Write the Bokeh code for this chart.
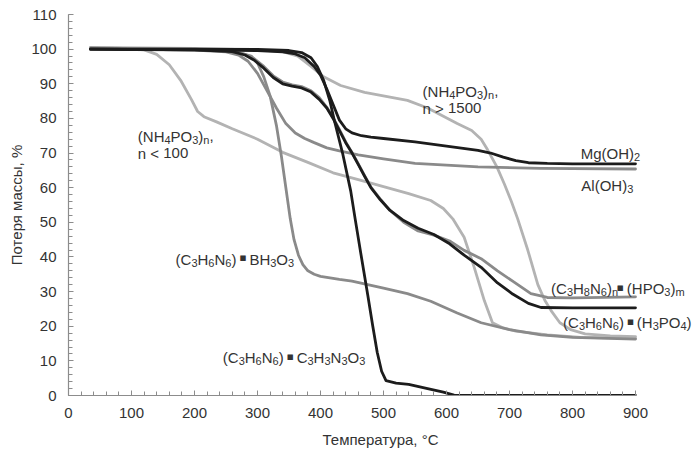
from bokeh.plotting import figure
from bokeh.models import Range1d, SingleIntervalTicker, Label
from bokeh.embed import file_html
from bokeh.resources import INLINE

# --- TGA curves: temperature (°C) and residual mass (%) ---
mg_t = [35, 100, 200, 300, 340, 360, 375, 390, 400, 410, 420, 430, 440, 450, 465, 480, 500, 550, 600, 650, 670, 690, 710, 730, 760, 800, 900]
mg_w = [100, 99.9, 99.8, 99.6, 99.2, 98.6, 97.5, 95, 92.5, 88.5, 84, 79.5, 77, 75.8, 75, 74.6, 74.2, 73.2, 72, 70.8, 70, 68.8, 67.8, 67.2, 67, 66.9, 66.9]

al_t = [35, 100, 200, 250, 270, 285, 300, 315, 330, 345, 360, 375, 390, 410, 430, 460, 500, 550, 600, 650, 750, 900]
al_w = [100.3, 100, 99.7, 99.2, 98.3, 96.5, 93, 88, 83, 78.5, 75.8, 74.2, 73, 71.5, 70.6, 69.5, 68.3, 67, 66.5, 66, 65.6, 65.4]

nh_low_t = [35, 80, 120, 140, 160, 178, 195, 205, 215, 235, 260, 300, 340, 380, 420, 460, 500, 540, 575, 595, 610, 628, 644, 660, 673, 690, 710, 760, 813, 900]
nh_low_w = [100.5, 100.3, 99.8, 98.5, 95.5, 91, 85.5, 82, 80.5, 79, 77, 74, 70.2, 67.3, 64.3, 62.3, 60.3, 58.3, 56.3, 54, 51, 45.7, 37, 27.4, 21, 19.5, 18.6, 17.5, 16.8, 16.5]

nh_high_t = [35, 200, 300, 340, 364, 385, 405, 432, 470, 538, 570, 617, 640, 655, 665, 680, 692, 703, 713, 729, 745, 756, 766, 780, 797, 820, 860, 900]
nh_high_w = [100.5, 100.2, 99.8, 99.3, 98, 95, 92, 89.5, 87.5, 85.2, 83, 78.5, 76.5, 74, 71, 66, 61, 56, 51, 42, 32, 27.5, 24.5, 21, 19, 17.8, 17.2, 17]

bh_t = [35, 200, 250, 270, 290, 300, 310, 320, 330, 338, 345, 352, 358, 365, 372, 380, 390, 400, 430, 450, 500, 538, 575, 617, 655, 700, 750, 800, 900]
bh_w = [100.3, 100, 99.5, 99, 98, 96, 92, 86.5, 78, 69, 60, 51, 45, 40.5, 37.8, 36, 35, 34.4, 33.5, 33, 31, 29.4, 27.2, 23.8, 21, 19, 17.5, 16.8, 16.3]

cy_t = [35, 200, 300, 350, 370, 385, 395, 405, 415, 422, 435, 448, 455, 464, 475, 483, 490, 497, 504, 520, 540, 570, 595, 612, 650, 900]
cy_w = [100, 100, 99.9, 99.6, 99, 97.5, 95, 91, 85, 79.4, 70, 59, 51, 41, 29, 20, 12.5, 7, 4.3, 3.6, 3.2, 2, 1, 0.1, 0, 0]

hp_t = [35, 200, 260, 280, 295, 310, 325, 340, 355, 370, 385, 398, 410, 420, 430, 440, 450, 459, 470, 480, 495, 510, 532, 555, 580, 605, 628, 655, 681, 705, 734, 760, 800, 900]
hp_w = [100.2, 99.9, 99.4, 98.5, 97.2, 95, 92.3, 90.5, 89.7, 89.2, 88, 86, 83.2, 80.2, 76.8, 73.2, 70.2, 67.2, 63.5, 60.2, 56.7, 53.5, 50, 47.5, 46.3, 44.6, 41.9, 39.5, 36, 33, 29.4, 28.3, 28.2, 28.5]

h3_t = [35, 200, 260, 280, 295, 310, 325, 340, 355, 370, 385, 398, 410, 420, 430, 440, 450, 459, 470, 480, 495, 510, 532, 555, 580, 605, 628, 655, 681, 705, 730, 750, 800, 900]
h3_w = [100, 99.8, 99.3, 98.3, 96.8, 94.5, 91.8, 90, 89.3, 88.8, 87.6, 85.5, 83, 80, 76.5, 73, 70, 67, 63.3, 60, 56.5, 53.5, 50.5, 48.3, 46.5, 43.8, 40.5, 37, 32.5, 29.3, 26.6, 25.4, 25.3, 25.3]

BLACK = "#1c1c1c"
MID = "#8a8a8a"
LIGHT = "#b3b3b3"

series = [
    (nh_low_t, nh_low_w, LIGHT),
    (nh_high_t, nh_high_w, LIGHT),
    (bh_t, bh_w, MID),
    (al_t, al_w, MID),
    (hp_t, hp_w, MID),
    (h3_t, h3_w, BLACK),
    (mg_t, mg_w, BLACK),
    (cy_t, cy_w, BLACK),
]

# --- curve labels ("_x" marks a subscript character) ---
label_texts = [
    "(NH_4PO_3)_n,",
    "n < 100",
    "(NH_4PO_3)_n,",
    "n > 1500",
    "Mg(OH)_2",
    "Al(OH)_3",
    "(C_3H_6N_6) \u25aa BH_3O_3",
    "(C_3H_6N_6) \u25aa C_3H_3N_3O_3",
    "(C_3H_8N_6)_n\u25aa (HPO_3)_m",
    "(C_3H_6N_6) \u25aa (H_3PO_4)",
]
# left edge (°C) and text baseline (%)
label_pos = [
    (110, 74.9), (110, 70.0),
    (562, 87.9), (562, 83.0),
    (813, 69.8), (814, 60.5),
    (170, 39.4), (245, 10.9),
    (766, 30.8), (785, 21.0),
]

FONT = "Liberation Sans"
TXT = "#333333"
AXC = "#8c8c8c"
MAIN_PX = 15
SUB_PX = 11
SUB_DROP = 3.5
BULLET_W = 0.31  # advance of the bullet, in em

# advance widths of Liberation Sans, per 1000 em
ADV = {" ": 278, "(": 333, ")": 333, ",": 278, "<": 584, ">": 584,
       "A": 667, "B": 667, "C": 722, "H": 722, "M": 833, "N": 722, "O": 778, "P": 667,
       "g": 556, "l": 222, "n": 556, "m": 833}
for d in "0123456789":
    ADV[d] = 556


def width(s, size):
    return sum(ADV[c] for c in s) * size / 1000.0


def parse(text):
    """Split a label into runs of (kind, string): 'n' normal, 's' subscript, 'b' bullet, 'w' space."""
    runs = []
    i = 0
    while i < len(text):
        c = text[i]
        if c == "_":
            kind, ch = "s", text[i + 1]
            i += 2
        elif c == "\u25aa":
            kind, ch = "b", c
            i += 1
        elif c == " ":
            kind, ch = "w", c
            i += 1
        else:
            kind, ch = "n", c
            i += 1
        if runs and runs[-1][0] == kind and kind != "b":
            runs[-1][1] += ch
        else:
            runs.append([kind, ch])
    return runs


p = figure(width=692, height=453, output_backend="svg", toolbar_location=None,
           x_range=Range1d(0, 900 * 624 / 567), y_range=Range1d(0, 110),
           min_border_left=68, min_border_right=0, min_border_top=14, min_border_bottom=58)
p.outline_line_color = None
p.grid.visible = False
p.background_fill_color = "white"
p.border_fill_color = "white"

for t, w, c in series:
    p.line(t, w, line_color=c, line_width=2.8, line_join="round", line_cap="round")

p.xaxis.ticker = SingleIntervalTicker(interval=100, num_minor_ticks=5)
p.yaxis.ticker = SingleIntervalTicker(interval=10, num_minor_ticks=5)
p.xaxis.bounds = (0, 900)
for ax in (p.xaxis[0], p.yaxis[0]):
    ax.axis_line_color = AXC
    ax.axis_line_width = 1.2
    ax.major_tick_line_color = AXC
    ax.minor_tick_line_color = AXC
    ax.major_tick_in = 5
    ax.major_tick_out = 0
    ax.minor_tick_in = 4
    ax.minor_tick_out = 0
    ax.major_label_text_font = FONT
    ax.major_label_text_font_size = "15px"
    ax.major_label_text_color = TXT
    ax.axis_label_text_font = FONT
    ax.axis_label_text_font_size = "15px"
    ax.axis_label_text_color = TXT
    ax.axis_label_text_font_style = "normal"

p.xaxis.axis_label = "Температура, °C"
p.yaxis.axis_label = "Потеря массы, %"
p.xaxis.major_label_standoff = 12
p.yaxis.major_label_standoff = 12
p.xaxis.axis_label_standoff = 10
p.yaxis.axis_label_standoff = 3


def text_run(x, y, off, s, size, dy):
    p.add_layout(Label(x=x, y=y, x_offset=off, y_offset=dy, text=s, text_font=FONT,
                       text_font_size=f"{size}px", text_color=TXT,
                       text_align="left", text_baseline="alphabetic"))


for txt, (x, y) in zip(label_texts, label_pos):
    off = 0.0
    for kind, s in parse(txt):
        if kind == "n":
            text_run(x, y, off, s, MAIN_PX, 0)
            off += width(s, MAIN_PX)
        elif kind == "s":
            text_run(x, y, off, s, SUB_PX, -SUB_DROP)
            off += width(s, SUB_PX)
        elif kind == "w":
            off += width(s, MAIN_PX)
        else:
            bw = BULLET_W * MAIN_PX
            p.add_layout(Label(x=x, y=y, x_offset=off + bw / 2, y_offset=1.5, text=s,
                               text_font="DejaVu Sans", text_font_size="11px",
                               text_color=TXT, text_align="center", text_baseline="middle"))
            off += bw

open("out.html", "w").write(file_html(p, INLINE))
